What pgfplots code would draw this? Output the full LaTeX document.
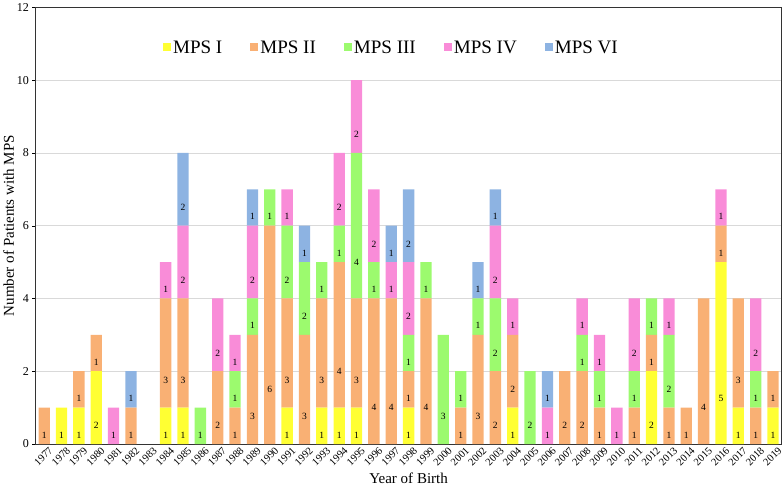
\documentclass[border=0pt]{standalone}
\usepackage{pgfplots}
\usepackage{pgfplotstable}
\pgfplotsset{compat=1.18}
\usepackage{fontspec}
\setmainfont{Liberation Serif}
\definecolor{cI}{HTML}{FFFF33}
\definecolor{cII}{HTML}{F9B074}
\definecolor{cIII}{HTML}{9CFA6E}
\definecolor{cIV}{HTML}{F98CD8}
\definecolor{cVI}{HTML}{8DB3E2}
\pgfplotstableread{
x I II III IV VI
0 0 1 0 0 0
1 1 0 0 0 0
2 1 1 0 0 0
3 2 1 0 0 0
4 0 0 0 1 0
5 0 1 0 0 1
6 0 0 0 0 0
7 1 3 0 1 0
8 1 3 0 2 2
9 0 0 1 0 0
10 0 2 0 2 0
11 0 1 1 1 0
12 0 3 1 2 1
13 0 6 1 0 0
14 1 3 2 1 0
15 0 3 2 0 1
16 1 3 1 0 0
17 1 4 1 2 0
18 1 3 4 2 0
19 0 4 1 2 0
20 0 4 0 1 1
21 1 1 1 2 2
22 0 4 1 0 0
23 0 0 3 0 0
24 0 1 1 0 0
25 0 3 1 0 1
26 0 2 2 2 1
27 1 2 0 1 0
28 0 0 2 0 0
29 0 0 0 1 1
30 0 2 0 0 0
31 0 2 1 1 0
32 0 1 1 1 0
33 0 0 0 1 0
34 0 1 1 2 0
35 2 1 1 0 0
36 0 1 2 1 0
37 0 1 0 0 0
38 0 4 0 0 0
39 5 1 0 1 0
40 1 3 0 0 0
41 0 1 1 2 0
42 1 1 0 0 0
}\data
\pgfplotsset{
  calcshift/.code={%
    \pgfmathfloattofixed{\pgfplotspointmeta}%
    \pgfmathsetmacro\myshift{-0.25*\pgfmathresult*436/12}%
    \pgfkeysalso{/tikz/yshift=\myshift pt}%
  }
}
\begin{document}
\begin{tikzpicture}
\begin{axis}[
  scale only axis, width=745pt, height=436pt,
  ybar stacked, bar width=11.3pt,
  xmin=-0.5, xmax=42.5, ymin=0, ymax=12,
  xtick={0,...,42},
  xticklabels={1977,1978,1979,1980,1981,1982,1983,1984,1985,1986,1987,1988,1989,1990,1991,1992,1993,1994,1995,1996,1997,1998,1999,2000,2001,2002,2003,2004,2005,2006,2007,2008,2009,2010,2011,2012,2013,2014,2015,2016,2017,2018,2019},
  x tick label style={rotate=45, anchor=north east, inner sep=0.5pt, xshift=4pt, yshift=-2pt, font=\fontsize{10.5}{11}\selectfont},
  ytick={0,2,...,12},
  ytick pos=left,
  y tick label style={font=\fontsize{12}{13}\selectfont},
  /pgf/number format/assume math mode=true,
  major x tick style={draw=none},
  major y tick style={black},
  tick align=outside, major tick length=3pt,
  ymajorgrids, grid style={draw=black!15, line width=0.6pt},
  axis line style={black!80, line width=1pt},
  xlabel={Year of Birth}, ylabel={Number of Patients with MPS},
  label style={font=\fontsize{15}{17}\selectfont},
  xlabel style={yshift=-2pt},
  ylabel style={yshift=-4pt},
  point meta=rawy,
  nodes near coords={\pgfmathfloatifflags{\pgfplotspointmeta}{0}{}{\pgfmathprintnumber{\pgfplotspointmeta}}},
  every node near coord/.append style={anchor=center, font=\fontsize{9.5}{10}\selectfont, /pgfplots/calcshift},
  legend style={at={(0.477,0.908)}, anchor=center, draw=none, fill=none,
    font=\fontsize{19}{21}\selectfont, legend columns=5,
    /tikz/every even column/.append style={column sep=26pt}},
  legend image code/.code={\fill[#1] (0pt,-4pt) rectangle (8pt,4pt);},
]
\addplot[fill=cI, draw=none] table[x=x, y=I] {\data};
\addplot[fill=cII, draw=none] table[x=x, y=II] {\data};
\addplot[fill=cIII, draw=none] table[x=x, y=III] {\data};
\addplot[fill=cIV, draw=none] table[x=x, y=IV] {\data};
\addplot[fill=cVI, draw=none] table[x=x, y=VI] {\data};
\legend{MPS I, MPS II, MPS III, MPS IV, MPS VI}
\end{axis}
\end{tikzpicture}
\end{document}
